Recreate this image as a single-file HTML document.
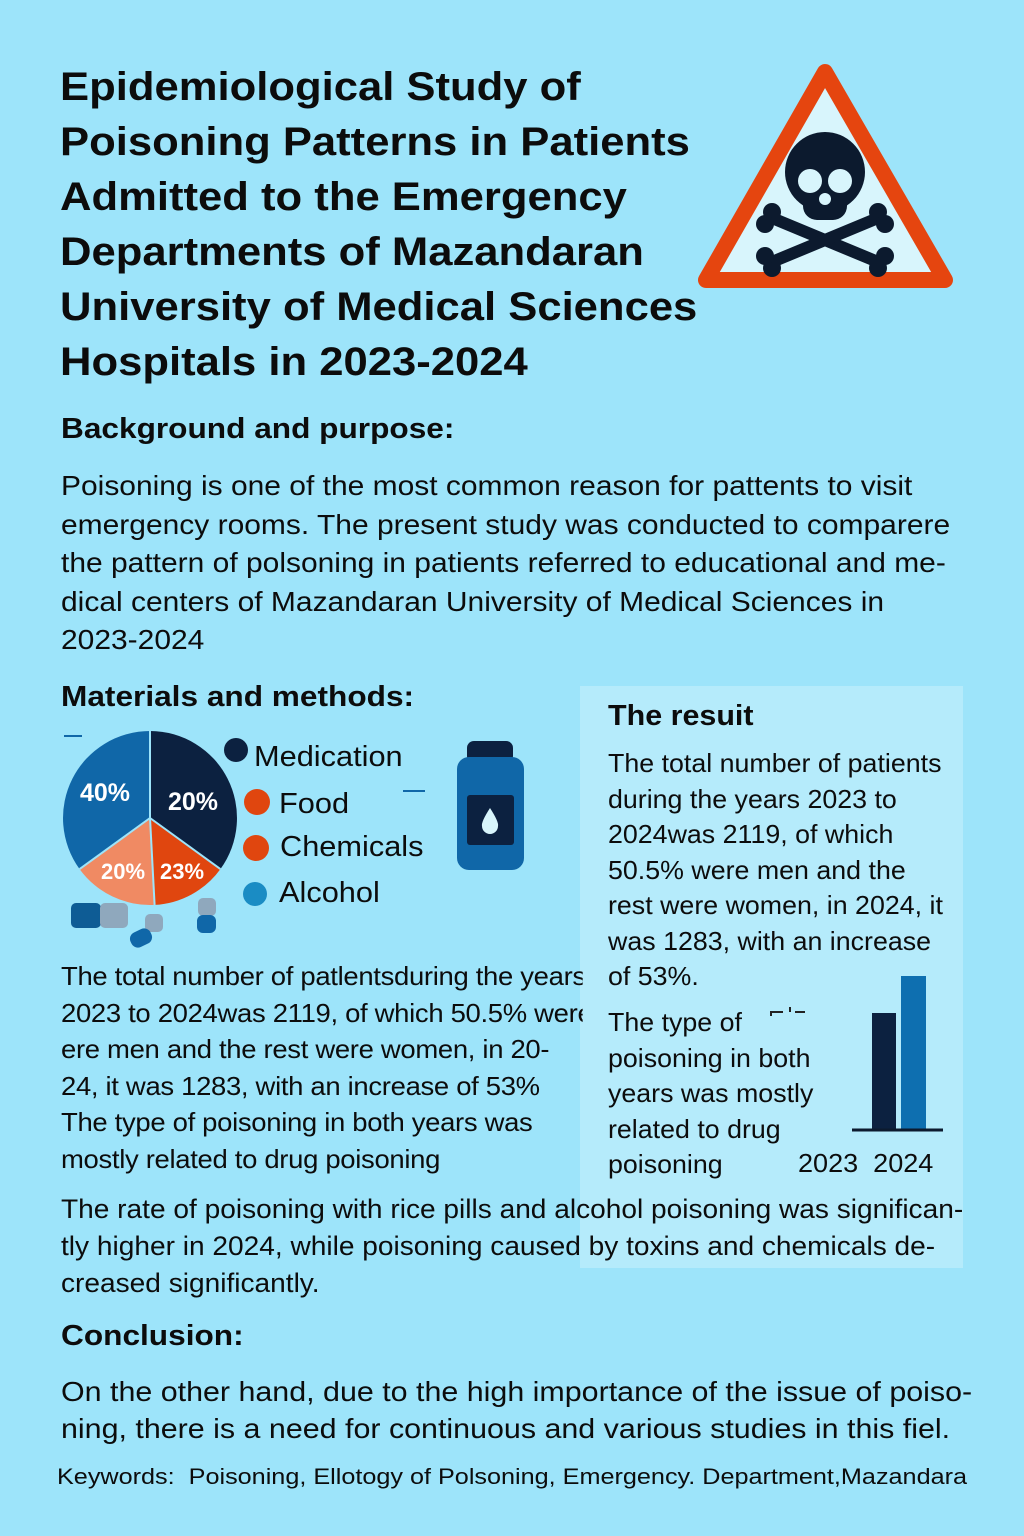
<!DOCTYPE html>
<html><head><meta charset="utf-8"><style>
body{margin:0;}
#p{position:relative;width:1024px;height:1536px;background:#9de4fa;overflow:hidden;font-family:"Liberation Sans",sans-serif;color:#0c0c0c;}
.a{position:absolute;white-space:nowrap;transform-origin:0 0;}
.t{font-weight:bold;font-size:40px;line-height:55px;left:60px;top:60px;transform:scaleX(1.09);}
.h{font-weight:bold;font-size:29px;transform:scaleX(1.09);}
.b{font-size:27.5px;line-height:38.5px;transform:scaleX(1.09);}
.r{font-size:26px;line-height:35.5px;transform:scaleX(1.03);}
.l{font-size:29px;transform:scaleX(1.06);}
</style></head><body><div id="p">
<div class="a t">Epidemiological Study of<br>Poisoning Patterns in Patients<br>Admitted to the Emergency<br>Departments of Mazandaran<br>University of Medical Sciences<br>Hospitals in 2023-2024</div>
<svg class="a" style="left:0;top:0" width="1024" height="1536">
<path d="M825 72 L706 280 L945 280 Z" fill="#d8f5fc" stroke="#e5450f" stroke-width="16" stroke-linejoin="round"/>
<g stroke="#0c1a2e" stroke-width="12" stroke-linecap="round"><line x1="772" y1="218" x2="878" y2="262"/><line x1="878" y1="218" x2="772" y2="262"/></g>
<g fill="#0c1a2e"><circle cx="772" cy="212" r="9"/><circle cx="765" cy="224" r="9"/><circle cx="878" cy="212" r="9"/><circle cx="885" cy="224" r="9"/><circle cx="772" cy="268" r="9"/><circle cx="765" cy="256" r="9"/><circle cx="878" cy="268" r="9"/><circle cx="885" cy="256" r="9"/>
<circle cx="825" cy="172" r="40"/><rect x="803" y="185" width="44" height="35" rx="14"/></g>
<g fill="#d8f5fc"><circle cx="810" cy="181" r="12"/><circle cx="840" cy="181" r="12"/><circle cx="825" cy="199" r="6"/></g>
<rect x="580" y="686" width="383" height="582" fill="#b5ebfb"/>
<path d="M150 818 L150 731 A87 87 0 0 1 220.4 869.1 Z" fill="#0c2140"/>
<path d="M150 818 L220.4 869.1 A87 87 0 0 1 154.6 904.9 Z" fill="#e0460f"/>
<path d="M150 818 L154.6 904.9 A87 87 0 0 1 79.6 869.1 Z" fill="#f08a63"/>
<path d="M150 818 L79.6 869.1 A87 87 0 0 1 150 731 Z" fill="#1067a8"/>
<g stroke="#9de4fa" stroke-width="2" fill="none"><line x1="150" y1="818" x2="150" y2="731"/><line x1="150" y1="818" x2="220.4" y2="869.1"/><line x1="150" y1="818" x2="154.6" y2="904.9"/><line x1="150" y1="818" x2="79.6" y2="869.1"/></g>
<g font-weight="bold" fill="#fff" font-size="25" font-family="Liberation Sans"><text x="80" y="801">40%</text><text x="168" y="810">20%</text><text x="101" y="879" font-size="22">20%</text><text x="160" y="879" font-size="22">23%</text></g>
<line x1="64" y1="736" x2="82" y2="736" stroke="#1067a8" stroke-width="2"/>
<line x1="403" y1="791" x2="425" y2="791" stroke="#1067a8" stroke-width="2"/>
<circle cx="236" cy="750" r="12" fill="#0c2140"/><circle cx="257" cy="802" r="13" fill="#e0460f"/><circle cx="256" cy="848" r="13" fill="#e0460f"/><circle cx="255" cy="894" r="12" fill="#1a8cc4"/>
<rect x="71" y="903" width="30" height="25" rx="5" fill="#0e5c95"/><rect x="100" y="903" width="28" height="25" rx="5" fill="#8fa8bd"/>
<rect x="145" y="914" width="18" height="18" rx="5" fill="#8fa8bd"/><rect x="130" y="930" width="22" height="16" rx="7" fill="#1067a8" transform="rotate(-25 141 938)"/>
<rect x="198" y="898" width="18" height="18" rx="5" fill="#8fa8bd"/><rect x="197" y="915" width="19" height="18" rx="6" fill="#1067a8"/>
<rect x="467" y="741" width="46" height="22" rx="7" fill="#0c2140"/>
<rect x="457" y="757" width="67" height="113" rx="12" fill="#1067a8"/>
<rect x="467" y="795" width="47" height="50" rx="3" fill="#0c2140"/>
<path d="M490 808 Q481 822 482 826 A8 8 0 0 0 498 826 Q499 822 490 808Z" fill="#d8f5fc"/>
<rect x="872" y="1013" width="24" height="116" fill="#0c2140"/><rect x="901" y="976" width="25" height="153" fill="#0e6fb0"/>
<line x1="852" y1="1130" x2="943" y2="1130" stroke="#0c1a2e" stroke-width="3"/>
<path d="M771 1016 v-4 h12 M790 1012 v-5 M795 1012 h10" stroke="#222" stroke-width="2" fill="none"/>
</svg>
<div class="a h" style="left:61px;top:413px">Background and purpose:</div>
<div class="a b" style="left:61px;top:467px">Poisoning is one of the most common reason for pattents to visit<br>emergency rooms. The present study was conducted to comparere<br>the pattern of polsoning in patients referred to educational and me-<br>dical centers of Mazandaran University of Medical Sciences in<br>2023-2024</div>
<div class="a h" style="left:61px;top:681px">Materials and methods:</div>
<div class="a l" style="left:254px;top:741px">Medication</div>
<div class="a l" style="left:279px;top:788px">Food</div>
<div class="a l" style="left:280px;top:831px">Chemicals</div>
<div class="a l" style="left:279px;top:877px">Alcohol</div>
<div class="a h" style="left:608px;top:700px;transform:scaleX(1.05)">The resuit</div>
<div class="a r" style="left:608px;top:746px">The total number of patients<br>during the years 2023 to<br>2024was 2119, of which<br>50.5% were men and the<br>rest were women, in 2024, it<br>was 1283, with an increase<br>of 53%.</div>
<div class="a r" style="left:608px;top:1005px">The type of<br>poisoning in both<br>years was mostly<br>related to drug<br>poisoning</div>
<div class="a" style="left:798px;top:1148px;font-size:26px;transform:scaleX(1.04)">2023&nbsp;&nbsp;2024</div>
<div class="a" style="left:61px;top:958px;font-size:26px;line-height:36.5px;width:494px;overflow:hidden;letter-spacing:-0.3px;transform:scaleX(1.056)">The total number of patlentsduring the years<br>2023 to 2024was 2119, of which 50.5% were<br>ere men and the rest were women, in 20-<br>24, it was 1283, with an increase of 53%<br>The type of poisoning in both years was<br>mostly related to drug poisoning</div>
<div class="a" style="left:61px;top:1191px;font-size:27px;line-height:37px;transform:scaleX(1.04)">The rate of poisoning with rice pills and alcohol poisoning was significan-<br>tly higher in 2024, while poisoning caused by toxins and chemicals de-<br>creased significantly.</div>
<div class="a h" style="left:61px;top:1320px">Conclusion:</div>
<div class="a" style="left:61px;top:1373px;font-size:28px;line-height:37px;transform:scaleX(1.086)">On the other hand, due to the high importance of the issue of poiso-<br>ning, there is a need for continuous and various studies in this fiel.</div>
<div class="a" style="left:57px;top:1464px;font-size:22.5px;transform:scaleX(1.12)">Keywords:&nbsp; Poisoning, Ellotogy of Polsoning, Emergency. Department,Mazandara</div>
</div></body></html>
